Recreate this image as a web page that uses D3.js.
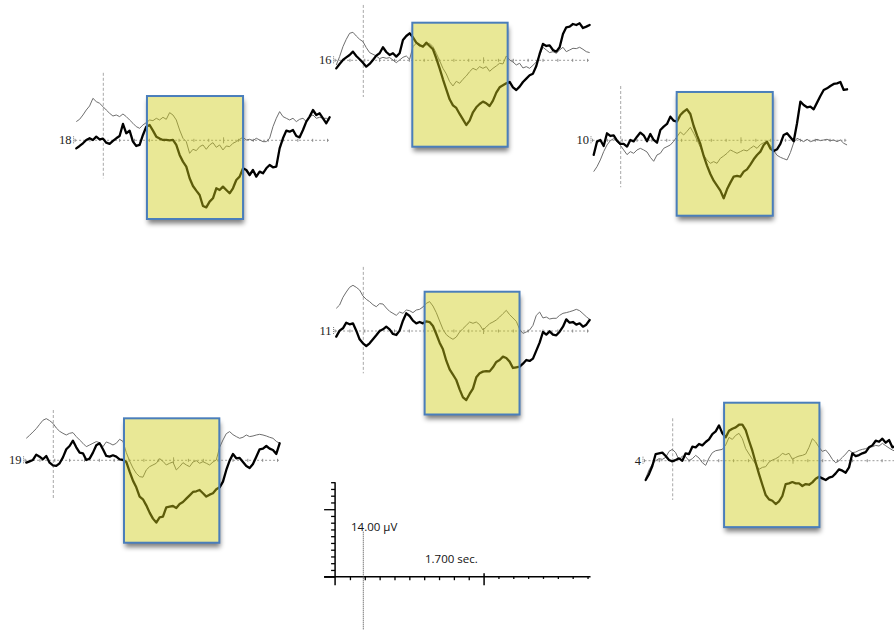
<!DOCTYPE html>
<html>
<head>
<meta charset="utf-8">
<script src="https://cdn.jsdelivr.net/npm/d3@7/dist/d3.min.js"></script>
<style>
  html, body { margin: 0; padding: 0; background: #fff; }
  svg { display: block; }
</style>
</head>
<body>
<svg id="chart" width="894" height="630"></svg>
<script>
// ---- Averaged ERP traces, one pair per channel (µV) ----
// Samples start at sampleStart (s, relative to stimulus onset) and are spaced sampleStep apart.
const sampleStart = -0.182;
const sampleStep = 0.02245;
const epochStart = -0.19;
const epochEnd = 1.52;

const channels = ["18", "16", "10", "11", "19", "4"];

const thick18 = [-1.19,-0.84,-0.44,0.05,0.30,0.05,0.54,0.15,0.25,-0.35,-0.54,-0.10,0.30,0.64,2.42,1.04,1.43,-0.20,-0.84,-0.69,0.79,2.02,2.27,1.43,0.54,0.25,0.05,0.05,0,0.05,-0.69,-2.17,-3.16,-3.90,-5.63,-6.77,-7.46,-8.10,-9.73,-9.93,-9.09,-8.59,-7.11,-7.36,-6.86,-7.36,-7.85,-7.11,-5.88,-5.38,-4.15,-4.40,-5.14,-4.40,-5.38,-4.64,-4.89,-4.15,-3.65,-4.00,-3.90,-1.19,0.30,1.43,1.28,1.53,0.64,0.44,1.53,2.77,3.51,4.49,3.75,4.00,3.26,2.52,3.41];
const thin18 = [2.77,3.11,3.75,4.49,5.09,6.22,5.73,5.48,4.99,4.49,4.00,3.60,3.75,3.51,3.90,3.51,3.01,2.52,2.02,1.78,2.27,2.62,3.01,2.91,3.26,3.01,3.41,3.11,4.10,3.75,3.01,1.53,0.30,-0.20,-1.93,-1.33,-1.53,-0.94,-0.69,-1.33,-0.69,-0.35,-1.04,-0.69,-1.43,-0.84,-0.94,-0.44,-0.20,0.15,0.44,0.05,0.15,-0.05,0.30,0.05,-0.20,-0.20,0.30,2.02,3.26,4.25,3.51,3.26,3.01,3.26,2.77,3.11,3.26,2.77,3.51,3.75,3.26,3.41,3.26,3.26,3.01];

const thick16 = [-1.19,-0.54,0.05,0.44,0.79,1.28,0.64,0.15,-0.35,-0.94,-0.54,0.05,0.69,1.04,1.93,1.23,0.79,1.04,0.54,1.04,3.01,3.60,4.00,3.41,2.62,2.27,2.02,2.62,2.12,1.63,0.30,-1.19,-2.81,-4.30,-5.78,-6.67,-7.06,-7.95,-8.74,-9.58,-8.94,-7.70,-6.96,-6.47,-6.12,-6.37,-6.77,-5.98,-4.79,-4.00,-3.70,-3.41,-3.21,-4.00,-4.40,-3.90,-3.21,-2.72,-2.22,-1.98,-0.84,0.94,2.42,2.12,2.22,1.53,1.28,1.93,3.90,4.89,4.99,5.38,5.23,5.48,4.79,4.99,5.23];
const thin16 = [-0.69,0.54,2.02,3.11,4.00,4.15,3.60,3.11,2.77,1.88,1.14,0.89,0.64,0.25,0.44,0.30,0.40,0.05,-0.35,0.05,0.44,0.64,0.15,2.02,2.52,2.02,2.22,2.27,2.52,2.02,1.04,-0.05,-1.19,-2.02,-3.16,-3.80,-3.11,-3.41,-2.81,-2.32,-1.68,-1.19,-1.43,-0.94,-1.19,-0.94,-1.63,-1.19,-0.84,-0.44,-0.54,0.64,0.05,-0.25,-0.69,-0.44,-1.14,-0.94,-1.19,-0.74,-0.25,0.79,1.93,1.53,1.14,1.28,1.04,1.53,1.93,1.28,1.53,1.78,1.73,1.93,1.63,1.28,1.14];

const thick10 = [-2.17,-0.20,0.05,-0.84,1.04,0.64,0.74,-0.05,-0.54,-0.54,-0.94,0.05,-0.15,0.54,1.14,0.74,-0.15,0.94,0.05,-0.35,1.53,2.02,2.42,3.51,2.91,2.77,3.75,4.25,4.59,3.90,2.12,0.74,-0.54,-2.32,-3.75,-4.99,-5.98,-6.72,-7.46,-8.59,-7.26,-6.27,-5.38,-5.28,-5.38,-4.64,-4.30,-3.60,-2.81,-2.17,-1.68,-0.69,-0.20,-1.23,-1.58,-1.33,-0.54,0.79,1.04,0.44,-0.15,2.52,5.73,5.23,4.89,4.99,4.59,5.58,6.57,7.46,7.70,8.05,8.35,8.44,8.64,7.46,7.56];
const thin10 = [-4.64,-3.90,-2.91,-1.68,-0.69,-0.05,0.25,-0.20,-0.74,-1.43,-2.12,-1.68,-1.93,-1.43,-1.19,-1.43,-1.73,-2.52,-3.11,-2.17,-1.93,-1.19,-0.94,-0.69,-0.15,0.54,1.23,0.79,1.33,1.93,1.04,0.05,-1.04,-2.22,-2.91,-3.41,-3.16,-3.41,-2.67,-2.32,-1.93,-1.43,-1.68,-1.93,-1.68,-1.43,-1.58,-1.19,-0.84,-1.19,-0.64,-0.35,-0.20,-0.74,-1.53,-2.22,-2.52,-2.72,-2.91,-1.83,-0.35,0.30,0.05,-0.20,0.15,-0.20,-0.05,0.15,-0.05,0.05,0.15,-0.05,0.05,-0.20,0.05,-0.44,-0.69];

const thick11 = [-0.84,0.05,0.40,1.23,0.99,1.14,0.05,-1.23,-1.83,-2.22,-1.83,-1.23,-0.64,0,0.25,0.64,0.25,-0.44,-0.59,0.05,1.53,2.62,2.22,1.53,1.14,1.33,1.14,1.43,1.33,0.74,-0.44,-1.73,-2.72,-4.40,-5.68,-6.47,-7.26,-8.64,-9.83,-10.22,-9.33,-8.54,-6.86,-6.27,-6.02,-5.93,-5.98,-5.38,-4.59,-4.30,-3.80,-4.00,-4.54,-5.48,-5.38,-5.28,-4.84,-4.30,-4.44,-4.10,-2.91,-1.73,-0.15,-0.54,-0.05,-0.54,-0.64,-0.10,0.64,1.73,1.23,1.33,0.94,1.14,0.64,0.94,1.63];
const thin11 = [3.36,3.85,4.99,5.78,6.47,6.77,6.47,6.07,5.19,4.69,4.35,3.90,3.60,4.05,4.00,3.41,2.91,2.62,2.32,2.81,2.62,3.11,3.01,2.72,3.11,3.21,3.56,4.10,4.35,3.70,2.72,1.48,0.25,-0.54,-0.94,-1.23,-0.89,-0.15,0.35,0.84,1.33,1.14,1.33,0.94,0.15,0.59,1.09,1.33,1.63,2.07,2.57,3.06,2.42,1.93,1.43,0.25,-0.35,-0.15,0.15,0.84,2.32,2.81,1.93,2.07,1.78,1.88,1.88,2.32,2.62,2.72,2.86,3.01,3.21,3.01,2.57,2.12,1.73];

const thick19 = [-0.35,-0.15,0.05,0.84,0.54,0.15,0.64,-0.35,-0.74,-0.84,-0.44,0.44,1.63,2.12,2.91,1.93,1.14,1.04,0.05,0.25,1.14,2.22,2.52,1.63,0.64,0.54,0.74,0.54,0.15,0.05,-0.25,-1.68,-3.01,-4.00,-5.38,-5.78,-6.67,-7.75,-8.64,-9.23,-8.44,-8.35,-6.96,-6.86,-6.77,-7.06,-6.47,-6.17,-5.68,-5.19,-4.69,-4.59,-4.40,-4.89,-5.38,-5.09,-4.89,-4.30,-4.00,-3.16,-1.43,-0.05,0.94,0.30,0.35,-0.25,-0.84,-1.14,-0.54,0.54,1.63,1.73,2.12,1.73,1.53,0.94,2.52];
const thin19 = [3.26,3.70,4.20,4.69,5.33,5.93,6.17,5.88,5.48,4.79,4.30,4.00,3.75,4.00,4.10,3.51,3.01,2.52,2.02,2.27,2.52,2.77,2.62,2.02,2.72,2.52,2.27,2.52,3.11,2.81,1.14,-0.10,-1.14,-1.93,-2.42,-2.50,-1.43,-0.94,-0.69,-0.44,0.25,-0.15,-0.69,-0.44,-0.25,-1.43,-0.94,-0.35,-0.69,-0.94,-0.25,-0.05,-0.44,-0.20,-0.44,-0.69,-0.25,0.05,1.93,3.01,3.95,4.25,3.80,3.51,3.26,3.41,3.75,3.51,3.60,3.75,3.85,3.75,3.60,3.41,3.26,2.81,2.52];

const thick4 = [-2.86,-1.98,-0.79,0.99,1.09,1.19,0.69,0.10,-0.10,0.10,0.35,0,1.09,0.99,2.07,1.98,2.47,2.27,2.77,3.16,3.95,4.35,5.23,4.05,3.46,4.44,4.74,4.94,5.33,5.33,4.54,2.96,1.48,-0.30,-1.98,-3.56,-5.09,-5.73,-5.93,-6.42,-6.02,-5.23,-3.46,-3.36,-3.16,-3.36,-3.36,-3.75,-3.46,-3.56,-3.21,-2.67,-2.37,-2.62,-2.86,-2.52,-2.37,-1.88,-1.28,-1.48,-1.78,-0.99,1.09,0.69,0.84,1.09,1.28,1.98,2.27,2.96,2.81,3.26,2.67,3.06,1.98,2.17,2.07];
const thin4 = [-2.62,-1.38,-0.49,0,0.30,0.20,0.49,1.38,1.68,1.19,0.10,0.69,0.59,0,0.30,0.79,0.40,-0.30,-0.69,0.40,1.19,1.48,1.58,1.68,2.32,3.46,3.16,3.75,4.05,3.26,1.78,0.99,0.20,-0.49,-1.28,-0.99,-0.89,-0.20,0.10,0.30,0.59,1.09,0.89,1.09,0.20,0.49,0.69,0.79,0.99,1.98,3.26,2.77,1.98,1.38,1.58,0.99,0.20,-0.30,0,0.49,0.99,1.58,1.19,1.28,1.53,1.68,1.78,2.02,2.07,2.27,2.17,2.57,2.22,1.88,1.58,1.38,1.28];

const thickSeries = { "18": thick18, "16": thick16, "10": thick10, "11": thick11, "19": thick19, "4": thick4 };
const thinSeries  = { "18": thin18,  "16": thin16,  "10": thin10,  "11": thin11,  "19": thin19,  "4": thin4 };

// Highlighted analysis windows: [start s, end s, top µV, bottom µV]
const highlightWindows = {
  "18": [0.294, 0.941, 6.56, -11.66],
  "16": [0.330, 0.972, 5.57, -12.80],
  "10": [0.377, 1.024, 7.16, -11.17],
  "11": [0.413, 1.052, 5.82, -12.37],
  "19": [0.476, 1.118, 6.22, -12.21],
  "4":  [0.346, 0.988, 8.59, -9.84]
};

// Extent of the stimulus-onset marker on each channel: [top µV, bottom µV]
const onsetMarker = {
  "18": [10.0, -5.63], "16": [8.2, -5.44], "10": [8.04, -6.96],
  "11": [9.5, -6.27],  "19": [7.45, -5.88], "4": [6.28, -5.82]
};

// Calibration bar
const calibVolts = 14;       // µV
const calibMajorVolt = 10;
const calibSeconds = 1.7;    // s
const calibLabelVolt = "14.00 µV";
const calibLabelTime = "1.700 sec.";

// ---- Layout (page position of each channel: stimulus onset x, baseline y) ----
const placement = {
  "18": [103.3, 140.3], "16": [363.3, 60.3], "10": [620.7, 140.3],
  "11": [363.3, 331.0], "19": [53.3, 460.3], "4":  [672.7, 460.7]
};
const calibOrigin = [363.3, 576.7];

const pxPerSecond = 148.5;
const pxPerMicrovolt = 6.75;

const x = d3.scaleLinear().domain([0, 1]).range([0, pxPerSecond]);
const y = d3.scaleLinear().domain([0, 1]).range([0, -pxPerMicrovolt]);

const svg = d3.select("#chart");
svg.append("rect").attr("width", 894).attr("height", 630).attr("fill", "#fff");

const defs = svg.append("defs");
defs.append("filter").attr("id", "soft").attr("x", "-20%").attr("y", "-20%")
  .attr("width", "140%").attr("height", "140%")
  .append("feGaussianBlur").attr("stdDeviation", 2.6);

const layerShadow = svg.append("g");
const layerUnder = svg.append("g");
const layerTraces = svg.append("g");
const layerOverlay = svg.append("g");
const layerBorder = svg.append("g");
const layerCalib = svg.append("g");

const sampleTime = i => sampleStart + i * sampleStep;
const line = d3.line().x((d, i) => x(sampleTime(i))).y(d => y(d));

const baselineTicks = d3.range(0, 18).map(i => epochStart + i * 0.1).filter(t => t <= epochEnd);

channels.forEach(ch => {
  const [px, py] = placement[ch];
  const w = highlightWindows[ch];
  const rx = x(w[0]), rw = x(w[1]) - x(w[0]);
  const ry = y(w[2]), rh = y(w[3]) - y(w[2]);

  // drop shadow + white base under the window
  layerShadow.append("rect")
    .attr("transform", `translate(${px},${py})`)
    .attr("x", rx + 1).attr("y", ry + 4.5).attr("width", rw).attr("height", rh)
    .attr("fill", "#000").attr("opacity", 0.5).attr("filter", "url(#soft)");
  layerUnder.append("rect")
    .attr("transform", `translate(${px},${py})`)
    .attr("x", rx).attr("y", ry).attr("width", rw).attr("height", rh)
    .attr("fill", "#fff");

  const g = layerTraces.append("g").attr("transform", `translate(${px},${py})`);

  // zero line (dotted) with 100 ms ticks
  g.append("line")
    .attr("x1", x(epochStart)).attr("x2", x(epochEnd))
    .attr("y1", y(0)).attr("y2", y(0))
    .attr("stroke", "#9a9a9a").attr("stroke-width", 1).attr("stroke-dasharray", "2,2");
  g.selectAll("line.tick").data(baselineTicks).enter().append("line")
    .attr("class", "tick")
    .attr("x1", d => x(d)).attr("x2", d => x(d))
    .attr("y1", (d, i) => i === 10 ? -3 : -1.5)
    .attr("y2", (d, i) => i === 10 ? 3 : 1.5)
    .attr("stroke", "#8a8a8a").attr("stroke-width", 1);
  g.append("line")
    .attr("x1", x(epochStart) - 1.5).attr("x2", x(epochStart) - 1.5)
    .attr("y1", -4).attr("y2", 4)
    .attr("stroke", "#777").attr("stroke-width", 1).attr("stroke-dasharray", "1,1");

  // stimulus onset marker
  const om = onsetMarker[ch];
  g.append("line")
    .attr("x1", x(0)).attr("x2", x(0))
    .attr("y1", y(om[0])).attr("y2", y(om[1]))
    .attr("stroke", "#a8a8a8").attr("stroke-width", 1).attr("stroke-dasharray", "3,2");

  // channel label
  g.append("text")
    .attr("x", x(epochStart) - 3.5).attr("y", 4)
    .attr("text-anchor", "end")
    .attr("font-family", "'Liberation Serif', 'DejaVu Serif', serif")
    .attr("font-size", 12.5).attr("fill", "#222")
    .text(ch);

  // condition traces
  g.append("path").datum(thinSeries[ch]).attr("d", line)
    .attr("fill", "none").attr("stroke", "#6e6e6e").attr("stroke-width", 1)
    .attr("stroke-linejoin", "round");
  g.append("path").datum(thickSeries[ch]).attr("d", line)
    .attr("fill", "none").attr("stroke", "#000").attr("stroke-width", 2.3)
    .attr("stroke-linejoin", "round").attr("stroke-linecap", "round");

  // translucent highlight and its frame
  layerOverlay.append("rect")
    .attr("transform", `translate(${px},${py})`)
    .attr("x", rx).attr("y", ry).attr("width", rw).attr("height", rh)
    .attr("fill", "rgb(206,204,22)").attr("fill-opacity", 0.45);
  layerBorder.append("rect")
    .attr("transform", `translate(${px},${py})`)
    .attr("x", rx).attr("y", ry).attr("width", rw).attr("height", rh)
    .attr("fill", "none").attr("stroke", "#4a7ebb").attr("stroke-width", 2);
});

// ---- Calibration bar ----
const cg = layerCalib.append("g").attr("transform", `translate(${calibOrigin[0]},${calibOrigin[1]})`);
const ax0 = x(epochStart);
const ax1 = x(epochStart + calibSeconds);

const vScale = d3.scaleLinear().domain([0, calibVolts]).range([y(0), y(calibVolts)]);
const vAxis = d3.axisLeft(vScale)
  .tickValues(d3.range(0, calibVolts + 1))
  .tickSizeInner(4).tickSizeOuter(0).tickFormat("");
const vg = cg.append("g").attr("transform", `translate(${ax0},0)`).call(vAxis);
vg.select(".domain").remove();
vg.selectAll(".tick line")
  .attr("x2", d => (d === calibMajorVolt || d === 0) ? -11 : -4)
  .attr("stroke", "#000").attr("stroke-width", 1.3);
cg.append("line")
  .attr("x1", ax0).attr("x2", ax0).attr("y1", vScale(calibVolts)).attr("y2", 8.5)
  .attr("stroke", "#000").attr("stroke-width", 1.5);

const tScale = d3.scaleLinear().domain([epochStart, epochStart + calibSeconds]).range([ax0, ax1]);
const tTicks = d3.range(1, 18).map(i => epochStart + i * 0.1);
const tAxis = d3.axisBottom(tScale).tickValues(tTicks).tickSizeInner(3.5).tickSizeOuter(0).tickFormat("");
const tg = cg.append("g").call(tAxis);
tg.select(".domain").remove();
tg.selectAll(".tick line")
  .attr("y1", (d, i) => i === 9 ? -3.5 : 0)
  .attr("y2", (d, i) => i === 9 ? 8.5 : (i < 9 ? 3.5 : 2.2))
  .attr("stroke", "#000").attr("stroke-width", (d, i) => i === 9 ? 1.5 : 1.3);
cg.append("line")
  .attr("x1", ax0 - 11).attr("x2", ax1 + 3).attr("y1", 0).attr("y2", 0)
  .attr("stroke", "#000").attr("stroke-width", 1.5);

// stimulus onset reference
cg.append("line")
  .attr("x1", x(0)).attr("x2", x(0)).attr("y1", -45).attr("y2", 60)
  .attr("stroke", "#444").attr("stroke-width", 1).attr("stroke-dasharray", "1,1");

cg.append("text")
  .attr("x", -12.3).attr("y", -46)
  .attr("font-family", "'Open Sans', 'DejaVu Sans', sans-serif")
  .attr("font-size", 11.5).attr("fill", "#111")
  .text(calibLabelVolt);
cg.append("text")
  .attr("x", 61.7).attr("y", -13.7)
  .attr("font-family", "'Open Sans', 'DejaVu Sans', sans-serif")
  .attr("font-size", 11.5).attr("fill", "#111")
  .text(calibLabelTime);
</script>
</body>
</html>
